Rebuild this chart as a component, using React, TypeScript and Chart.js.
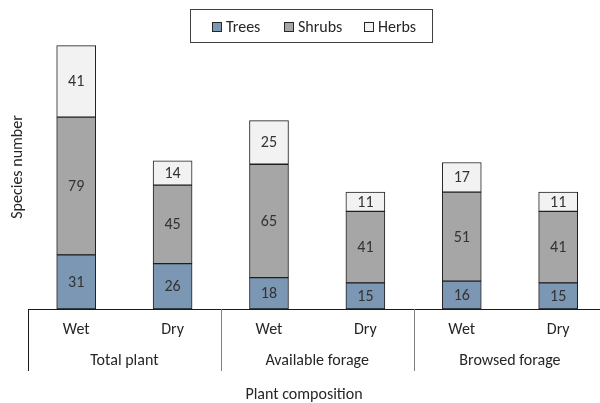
import React, { useEffect, useRef } from "react";
import { Chart, registerables } from "chart.js";

Chart.register(...registerables);

const categories = ["Wet", "Dry", "Wet", "Dry", "Wet", "Dry"];
const groups = ["Total plant", "Available forage", "Browsed forage"];
const trees = [31, 26, 18, 15, 16, 15];
const shrubs = [79, 45, 65, 41, 51, 41];
const herbs = [41, 14, 25, 11, 17, 11];
const seriesNames = ["Trees", "Shrubs", "Herbs"];
const seriesColors = ["#7c97b3", "#a6a6a6", "#f2f2f2"];

const FONT = "Carlito, Lato, sans-serif";
const TEXT = "#262626";

const overlay = {
  id: "overlay",
  afterDatasetsDraw(chart: any) {
    const ctx = chart.ctx;
    ctx.save();
    ctx.font = `16px ${FONT}`;
    ctx.fillStyle = "#333333";
    ctx.textAlign = "center";
    ctx.textBaseline = "middle";
    chart.data.datasets.forEach((ds: any, di: number) => {
      const meta = chart.getDatasetMeta(di);
      meta.data.forEach((el: any, i: number) => {
        const v = ds.data[i].y;
        const cy = (el.y + el.base) / 2;
        ctx.fillText(String(v), el.x, cy + 1);
      });
    });
    ctx.restore();
  },
  afterDraw(chart: any) {
    const ctx = chart.ctx;
    const area = chart.chartArea;
    const xs = chart.scales.x;
    ctx.save();
    // axis baseline
    ctx.strokeStyle = "#1a1a1a";
    ctx.lineWidth = 1;
    ctx.beginPath();
    ctx.moveTo(area.left, Math.round(area.bottom) + 0.5);
    ctx.lineTo(chart.width, Math.round(area.bottom) + 0.5);
    ctx.stroke();
    // group separators
    for (let g = 0; g <= groups.length; g++) {
      const x = Math.round(xs.getPixelForValue(g * 2 - 0.5)) + 0.5;
      ctx.strokeStyle = g === 0 ? "#1a1a1a" : "#7f7f7f";
      ctx.beginPath();
      ctx.moveTo(x, area.bottom);
      ctx.lineTo(x, area.bottom + 62);
      ctx.stroke();
    }
    ctx.fillStyle = TEXT;
    ctx.textAlign = "center";
    ctx.textBaseline = "middle";
    ctx.font = `16px ${FONT}`;
    categories.forEach((c, i) => {
      ctx.fillText(c, xs.getPixelForValue(i), area.bottom + 21);
    });
    groups.forEach((g, i) => {
      ctx.fillText(g, xs.getPixelForValue(i * 2 + 0.5), area.bottom + 52);
    });
    // axis titles
    ctx.fillText("Plant composition", 304, 395);
    ctx.save();
    ctx.translate(18, 167);
    ctx.rotate(-Math.PI / 2);
    ctx.fillText("Species number", 0, 0);
    ctx.restore();
    // legend
    ctx.strokeStyle = "#404040";
    ctx.strokeRect(190.5, 9.5, 242, 33);
    const boxX = [212, 284, 364];
    ctx.textAlign = "left";
    seriesNames.forEach((n, i) => {
      ctx.fillStyle = seriesColors[i];
      ctx.fillRect(boxX[i], 22, 10, 10);
      ctx.strokeStyle = "#262626";
      ctx.strokeRect(boxX[i] + 0.5, 22.5, 9, 9);
      ctx.fillStyle = TEXT;
      ctx.fillText(n, boxX[i] + 14, 27.5);
    });
    ctx.restore();
  },
};

export default function App() {
  const ref = useRef<HTMLCanvasElement | null>(null);
  useEffect(() => {
    if (!ref.current) return;
    const series = [trees, shrubs, herbs];
    const chart = new Chart(ref.current, {
      type: "bar",
      data: {
        datasets: series.map((s, si) => ({
          label: seriesNames[si],
          data: s.map((v, i) => ({ x: i, y: v })),
          backgroundColor: seriesColors[si],
          borderColor: "#1f1f1f",
          borderWidth: 1,
          borderSkipped: false,
          barThickness: 39,
        })),
      },
      options: {
        responsive: false,
        animation: false,
        layout: { padding: { left: 28, right: 0, top: 30, bottom: 94 } },
        plugins: { legend: { display: false }, tooltip: { enabled: false } },
        scales: {
          x: { type: "linear", min: -0.5, max: 5.434, offset: false, stacked: true, display: false },
          y: { min: 0, max: 160, stacked: true, display: false },
        },
      },
      plugins: [overlay],
    });
    return () => chart.destroy();
  }, []);
  return (
    <div style={{ position: "absolute", left: 0, top: 0, width: 600, height: 403, background: "#fff" }}>
      <canvas ref={ref} width={600} height={403} style={{ display: "block" }} />
    </div>
  );
}
